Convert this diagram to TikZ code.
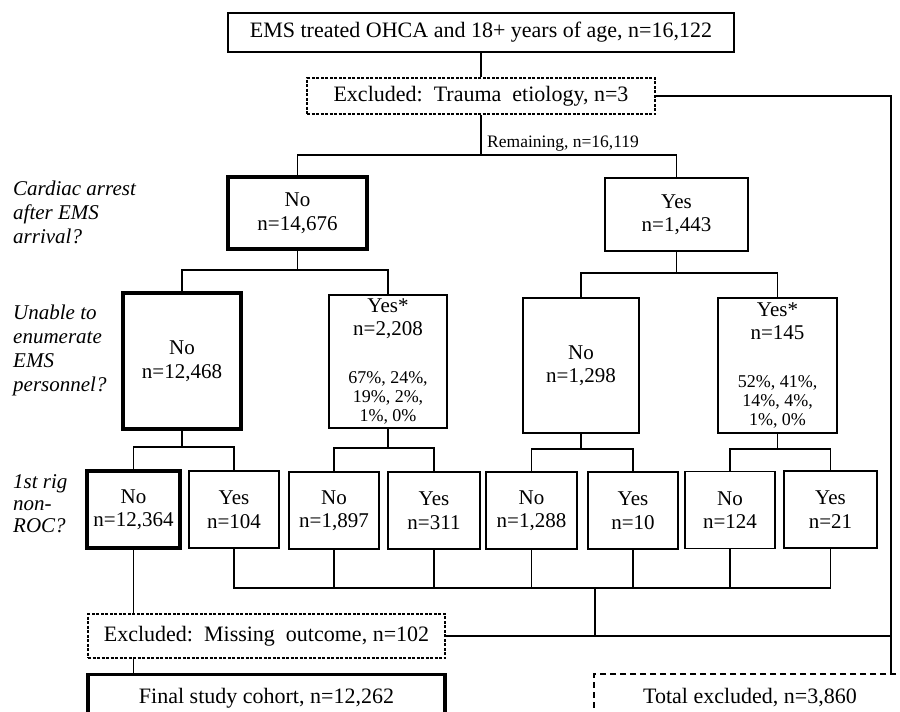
\documentclass[tikz,border=0pt]{standalone}
\usepackage{fontspec}
\setmainfont{Liberation Serif}
\usetikzlibrary{positioning}

\newcommand{\pcsize}{\fontsize{18}{19}\selectfont}

\tikzset{
  box/.style={draw, line width=1.7pt, align=center, inner sep=0pt,
    font=\fontsize{21}{23.5}\selectfont},
  thickbox/.style={box, line width=3.2pt},
  exbox/.style={draw, line width=1.2pt, dash pattern=on 3pt off 1.5pt,
    align=center, inner sep=0pt, font=\fontsize{22}{24}\selectfont},
  totbox/.style={draw, line width=2pt, dash pattern=on 6pt off 4pt,
    inner sep=0pt, font=\fontsize{22}{24}\selectfont},
  question/.style={align=left, inner sep=0pt, anchor=north west,
    font=\fontsize{21}{24}\selectfont\itshape},
  conn/.style={line width=1.7pt}
}

\begin{document}
\begin{tikzpicture}[x=1pt, y=-1pt]
    \useasboundingbox (0,0) rectangle (900,712);
    \clip (0,0) rectangle (900,712);

    % Start and first exclusion
    \node[box, line width=2.5pt, minimum width=506, minimum height=39,
      font=\fontsize{22}{24}\selectfont] (ems) at (481,32.5)
      {EMS treated OHCA and 18+ years of age, n=16,122};
    \node[exbox, minimum width=348, minimum height=36] (trauma) at (481,96)
      {Excluded:\ \ Trauma\ \ etiology,\ n=3};
    \coordinate (s1) at (481,155);
    \node[anchor=base west, inner sep=0pt, font=\fontsize{17.5}{20}\selectfont]
      (remain) at (487,147) {Remaining, n=16,119};

    % Questions
    \node[question] (qcardiac) at (13,180.5) {Cardiac arrest\\after EMS\\arrival?};
    \node[question] (qenum) at (13,304.5) {Unable to\\enumerate\\EMS\\personnel?};
    \node[question, font=\fontsize{21}{22}\selectfont\itshape] (qrig) at (13,474)
      {1st rig\\non-\\ROC?};

    % Cardiac arrest after EMS arrival
    \node[thickbox, minimum width=139, minimum height=72] (no1) at (297.5,213) {No\\n=14,676};
    \node[box, minimum width=143, minimum height=73] (yes1) at (676.5,214.5) {Yes\\n=1,443};

    % Unable to enumerate
    \node[thickbox, minimum width=118, minimum height=136] (no2a) at (182,361) {No\\n=12,468};
    \node[box, minimum width=118, minimum height=133] (yes2a) at (388,361.5)
      {Yes*\\n=2,208\\[24pt]\pcsize 67\%, 24\%,\\[-4.5pt]\pcsize 19\%, 2\%,\\[-4.5pt]\pcsize 1\%, 0\%};
    \node[box, minimum width=116, minimum height=135] (no2b) at (581,365.5) {No\\n=1,298};
    \node[box, minimum width=119, minimum height=135] (yes2b) at (777.5,365.5)
      {Yes*\\n=145\\[24pt]\pcsize 52\%, 41\%,\\[-4.5pt]\pcsize 14\%, 4\%,\\[-4.5pt]\pcsize 1\%, 0\%};

    % 1st rig non-ROC
    \node[thickbox, minimum width=93, minimum height=77] (no3a) at (133.5,509.5) {No\\n=12,364};
    \node[box, minimum width=90, minimum height=77] (yes3a) at (234,509.5) {Yes\\n=104};
    \node[box, minimum width=90, minimum height=77] (no3b) at (334,510.5) {No\\n=1,897};
    \node[box, minimum width=92, minimum height=77] (yes3b) at (434,510.5) {Yes\\n=311};
    \node[box, minimum width=91, minimum height=77] (no3c) at (531.5,510.5) {No\\n=1,288};
    \node[box, minimum width=90, minimum height=77] (yes3c) at (633,510.5) {Yes\\n=10};
    \node[box, minimum width=90, minimum height=77] (no3d) at (730,510) {No\\n=124};
    \node[box, minimum width=93, minimum height=77] (yes3d) at (830.5,509.5) {Yes\\n=21};

    % Outcome
    \node[exbox, minimum width=357, minimum height=44] (missing) at (266.5,636)
      {Excluded:\ \ Missing\ \ outcome,\ n=102};
    \node[box, line width=3.2pt, minimum width=357, minimum height=48, anchor=north,
      font=\fontsize{22}{24}\selectfont] (final) at (266.5,673) {Final study cohort, n=12,262};
    \node[totbox, minimum width=312, minimum height=48, anchor=north] (total) at (750,673)
      {Total excluded, n=3,860};

    % Tree connectors
    \draw[conn] (ems) -- (trauma);
    \draw[conn] (trauma) -- (s1);
    \draw[conn] (no1) |- (s1) -| (yes1);

    \coordinate (s2a) at (297.5,270);
    \coordinate (s2b) at (676.5,273);
    \draw[conn] (no1) -- (s2a);
    \draw[conn] (no2a) |- (s2a) -| (yes2a);
    \draw[conn] (yes1) -- (s2b);
    \draw[conn] (no2b) |- (s2b) -| (yes2b);

    \coordinate (s3a) at (182,447);
    \coordinate (s3b) at (388,448);
    \coordinate (s3c) at (581,449);
    \coordinate (s3d) at (777.5,449);
    \draw[conn] (no2a) -- (s3a);
    \draw[conn] (no3a) |- (s3a) -| (yes3a);
    \draw[conn] (yes2a) -- (s3b);
    \draw[conn] (no3b) |- (s3b) -| (yes3b);
    \draw[conn] (no2b) -- (s3c);
    \draw[conn] (no3c) |- (s3c) -| (yes3c);
    \draw[conn] (yes2b) -- (s3d);
    \draw[conn] (no3d) |- (s3d) -| (yes3d);

    % Excluded branches
    \coordinate (j1) at (595,588);
    \draw[conn] (yes3a) |- (j1) -| (yes3d);
    \foreach \n in {no3b,yes3b,no3c,yes3c,no3d}
      \draw[conn] (\n) -- (\n |- j1);
    \draw[conn] (j1) -- (j1 |- missing);

    % Cohort line
    \draw[conn] (no3a.south) -- (no3a.south |- missing.north);
    \draw[conn] (no3a.south |- missing.south) -- (no3a.south |- final.north);

    % Right side to total excluded
    \coordinate (rtop) at (891,96);
    \draw[conn] (trauma) -- (rtop) -- (rtop |- total.north);
    \draw[conn] (missing) -- (missing -| rtop);
\end{tikzpicture}
\end{document}
